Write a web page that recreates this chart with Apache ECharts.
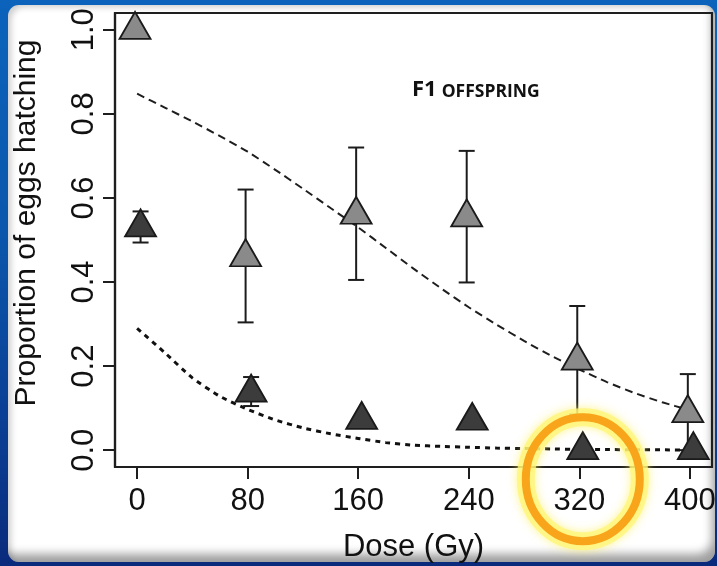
<!DOCTYPE html>
<html>
<head>
<meta charset="utf-8">
<script src="https://cdn.jsdelivr.net/npm/echarts@6/dist/echarts.min.js"></script>
<style>
  html, body { margin: 0; padding: 0; width: 717px; height: 566px; overflow: hidden; }
  body {
    position: relative;
    background: linear-gradient(180deg, #0c63bb 0%, #0a57ad 40%, #0a3f94 75%, #0a2a7c 100%);
  }
  #panel {
    position: absolute; left: 8px; top: 5px; width: 707px; height: 557px;
    border-radius: 11px; background: #ffffff;
    box-shadow: inset -7px -12px 10px -4px rgba(0,0,0,0.38),
                inset 5px 4px 6px -2px rgba(0,0,0,0.20);
  }
  #chart { position: absolute; left: 0; top: 0; width: 717px; height: 566px; }
</style>
</head>
<body>
<div id="panel"></div>
<div id="chart"></div>
<script>
// Dose levels (Gy) and tick labels
const doses = [0, 80, 160, 240, 320, 400];
const xTicks = [0, 80, 160, 240, 320, 400];
const yTicks = [0.0, 0.2, 0.4, 0.6, 0.8, 1.0];

// Light-grey triangles: mean proportion hatching with error limits
const lightMean = [1.0, 0.459, 0.56, 0.554, 0.213, 0.088];
const lightLow  = [null, 0.304, 0.405, 0.399, 0.085, 0.0];
const lightHigh = [null, 0.62, 0.72, 0.712, 0.343, 0.181];

// Dark triangles: mean proportion hatching with error limits
const darkMean = [0.53, 0.137, 0.072, 0.070, 0.0, 0.0];
const darkLow  = [0.494, 0.105, null, null, null, null];
const darkHigh = [0.568, 0.174, null, null, null, null];

// Fitted curves sampled along dose
const curveDose  = [0, 20, 40, 60, 80, 100, 120, 140, 160, 180, 200, 220, 240, 260, 280, 300, 320, 340, 360, 380, 400];
const lightCurve = [0.848, 0.815, 0.782, 0.747, 0.71, 0.667, 0.622, 0.576, 0.53, 0.481, 0.432, 0.385, 0.34, 0.299, 0.26, 0.224, 0.192, 0.162, 0.136, 0.114, 0.095];
const darkCurve  = [0.29, 0.232, 0.172, 0.128, 0.097, 0.072, 0.053, 0.039, 0.028, 0.018, 0.012, 0.009, 0.007, 0.005, 0.004, 0.003, 0.002, 0.0015, 0.001, 0.0008, 0.0005];

// Small horizontal dodge (Gy) so the two groups do not sit exactly on top of each other
const LIGHT_SHIFT = -1.5;
const DARK_SHIFT = 2.5;

const FONT = 'Liberation Sans';
const INK = '#111';

function pairs(xs, ys, shift) {
  return xs.map((x, i) => [x + (shift || 0), ys[i]]);
}

function errorBars(shift, lows, highs, z) {
  const data = [];
  doses.forEach((d, i) => {
    if (lows[i] != null && highs[i] != null) data.push([d + shift, lows[i], highs[i]]);
  });
  return {
    type: 'custom',
    z: z,
    silent: true,
    encode: { x: 0, y: [1, 2] },
    data: data,
    renderItem: function (params, api) {
      const x = api.value(0);
      const lo = api.coord([x, api.value(1)]);
      const hi = api.coord([x, api.value(2)]);
      const half = 8;
      const st = { stroke: '#1c1c1c', lineWidth: 2 };
      return {
        type: 'group',
        children: [
          { type: 'line', shape: { x1: lo[0], y1: lo[1], x2: hi[0], y2: hi[1] }, style: st },
          { type: 'line', shape: { x1: lo[0] - half, y1: lo[1], x2: lo[0] + half, y2: lo[1] }, style: st },
          { type: 'line', shape: { x1: hi[0] - half, y1: hi[1], x2: hi[0] + half, y2: hi[1] }, style: st }
        ]
      };
    }
  };
}

const triSize = [31, 27];
const triOffset = [0, -4.5];

const chart = echarts.init(document.getElementById('chart'), null, { renderer: 'canvas' });

chart.setOption({
  backgroundColor: 'transparent',
  animation: false,
  title: {
    text: '{a|F1} {b|OFFSPRING}',
    left: 407, top: 70,
    textStyle: {
      rich: {
        a: { fontFamily: 'Open Sans', fontWeight: 'bold', fontSize: 22, color: INK, verticalAlign: 'bottom', lineHeight: 26 },
        b: { fontFamily: 'Open Sans', fontWeight: 'bold', fontSize: 17.5, color: INK, verticalAlign: 'bottom', lineHeight: 26 }
      }
    }
  },
  grid: {
    left: 115, right: 5, top: 13, bottom: 99,
    containLabel: false, outerBoundsMode: 'none',
    show: true, borderColor: '#1e1e1e', borderWidth: 2.2, backgroundColor: 'transparent'
  },
  xAxis: {
    type: 'value', min: -16, max: 416,
    splitLine: { show: false },
    axisLine: { show: true, onZero: false, lineStyle: { color: '#1e1e1e', width: 2.2 } },
    axisTick: { show: true, length: 12, lineStyle: { color: '#1e1e1e', width: 2 }, customValues: xTicks },
    axisLabel: { customValues: xTicks, margin: 19, fontSize: 31, fontFamily: FONT, color: INK },
    name: 'Dose (Gy)', nameLocation: 'middle', nameGap: 65,
    nameTextStyle: { fontSize: 31, fontFamily: FONT, color: INK }
  },
  yAxis: {
    type: 'value', min: -0.04, max: 1.04,
    splitLine: { show: false },
    axisLine: { show: true, onZero: false, lineStyle: { color: '#1e1e1e', width: 2.2 } },
    axisTick: { show: true, length: 12, lineStyle: { color: '#1e1e1e', width: 2 }, customValues: yTicks },
    axisLabel: {
      customValues: yTicks, rotate: 90, margin: 15, fontSize: 31, fontFamily: FONT, color: INK,
      formatter: v => v.toFixed(1)
    },
    name: 'Proportion of eggs hatching', nameLocation: 'middle', nameGap: 73,
    nameTextStyle: { fontSize: 30, fontFamily: FONT, color: INK, padding: [0, 0, 0, 34] }
  },
  series: [
    {
      type: 'line', z: 2, silent: true, smooth: 0.2, showSymbol: false,
      data: pairs(curveDose, lightCurve),
      lineStyle: { color: '#1e1e1e', width: 2, type: [8, 5] }
    },
    {
      type: 'line', z: 2, silent: true, smooth: 0.2, showSymbol: false,
      data: pairs(curveDose, darkCurve),
      lineStyle: { color: '#111', width: 3, type: [5, 5] }
    },
    errorBars(LIGHT_SHIFT, lightLow, lightHigh, 3),
    {
      type: 'scatter', z: 4, silent: true,
      symbol: 'triangle', symbolSize: triSize, symbolOffset: triOffset,
      data: pairs(doses, lightMean, LIGHT_SHIFT),
      itemStyle: { color: '#8a8a8a', borderColor: '#1a1a1a', borderWidth: 1.8, opacity: 1 }
    },
    errorBars(DARK_SHIFT, darkLow, darkHigh, 5),
    {
      type: 'scatter', z: 6, silent: true,
      symbol: 'triangle', symbolSize: triSize, symbolOffset: triOffset,
      data: pairs(doses, darkMean, DARK_SHIFT),
      itemStyle: { color: '#3c3c3c', borderColor: '#1a1a1a', borderWidth: 1.8, opacity: 1 }
    }
  ]
});

// Highlight ring around the 320 Gy dose, drawn from the axis scale
const hp = chart.convertToPixel({ gridIndex: 0 }, [320 + DARK_SHIFT, 0]);
const ringCx = hp[0], ringCy = hp[1] + 29;
chart.setOption({
  graphic: [
    {
      type: 'ellipse', z: 100, silent: true,
      shape: { cx: ringCx, cy: ringCy, rx: 57, ry: 62 },
      style: { fill: 'none', stroke: 'rgba(255,246,120,0.75)', lineWidth: 18, shadowBlur: 10, shadowColor: 'rgba(255,240,90,0.9)' }
    },
    {
      type: 'ellipse', z: 101, silent: true,
      shape: { cx: ringCx, cy: ringCy, rx: 57, ry: 62 },
      style: { fill: 'none', stroke: '#f8a51b', lineWidth: 8 }
    }
  ]
});
</script>
</body>
</html>
